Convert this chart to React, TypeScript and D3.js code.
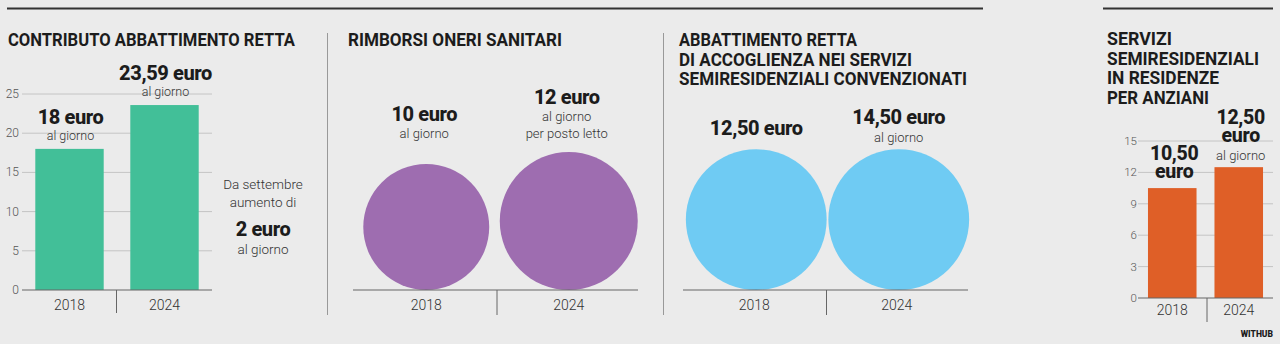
import React from "react";
import * as d3 from "d3";

const years = ["2018", "2024"];
const contributoValues = [18, 23.59];
const contributoLabels = ["18 euro", "23,59 euro"];
const contributoTicks = [0, 5, 10, 15, 20, 25];
const rimborsiValues = [10, 12];
const rimborsiLabels = ["10 euro", "12 euro"];
const rimborsiSub = [["al giorno"], ["al giorno", "per posto letto"]];
const accoglienzaValues = [12.5, 14.5];
const accoglienzaLabels = ["12,50 euro", "14,50 euro"];
const accoglienzaSub = [[], ["al giorno"]];
const serviziValues = [10.5, 12.5];
const serviziLabels = [["10,50", "euro"], ["12,50", "euro"]];
const serviziSub = [[], ["al giorno"]];
const serviziTicks = [0, 3, 6, 9, 12, 15];

const BG = "#ebebeb";
const DARK = "#1c1c1c";
const GRID = "#c4c4c4";
const AXIS = "#666";
const FONT = "Roboto, 'Noto Sans', sans-serif";

function Title({ x, y, lines, widths }: { x: number; y: number; lines: string[]; widths: number[] }) {
  return (
    <g>
      {lines.map((l, i) => (
        <text key={i} x={x} y={y + i * 19.7} fontFamily={FONT} fontWeight={700} fontSize={18}
          fill={DARK} textLength={widths[i]} lengthAdjust="spacingAndGlyphs">{l}</text>
      ))}
    </g>
  );
}

export default function App() {
  // Panel 1
  const x1 = d3.scaleBand<string>().domain(years).range([22, 212]).paddingInner(0.28).paddingOuter(0.14);
  const y1 = d3.scaleLinear().domain([0, 25]).range([290, 94]);
  // Panel 2 and 3 circles
  const r = d3.scaleSqrt().domain([0, 12.5]).range([0, 70.4]).clamp(true);
  const x2 = d3.scaleBand<string>().domain(years).range([353, 638]);
  const x3 = d3.scaleBand<string>().domain(years).range([683, 968]);
  const base = 290;
  // Panel 4
  const x4 = d3.scaleBand<string>().domain(years).range([1138, 1273]).paddingInner(0.27).paddingOuter(0.15);
  const y4 = d3.scaleLinear().domain([0, 15]).range([298, 141]);

  const green = "#42bf98";
  const purple = "#9e6db0";
  const blue = "#6fcbf3";
  const orange = "#df5f27";

  const xLabel = (x: number, y: number, t: string, k: string) => (
    <text key={k} x={x} y={y} textAnchor="middle" fontFamily={FONT} fontWeight={300} fontSize={14} fill="#333">{t}</text>
  );

  return (
    <svg width={1280} height={344} style={{ position: "absolute", left: 0, top: 0 }}>
      <rect width={1280} height={344} fill={BG} />
      {/* top rules */}
      <line x1={7} x2={983} y1={8.5} y2={8.5} stroke="#333" strokeWidth={2} />
      <line x1={1103} x2={1273} y1={8.5} y2={8.5} stroke="#333" strokeWidth={2} />
      {/* panel dividers */}
      <line x1={327.5} x2={327.5} y1={33} y2={315} stroke="#999" strokeWidth={1} />
      <line x1={663.5} x2={663.5} y1={33} y2={315} stroke="#999" strokeWidth={1} />

      {/* Panel 1 */}
      <Title x={8} y={46} lines={["CONTRIBUTO ABBATTIMENTO RETTA"]} widths={[287]} />
      {contributoTicks.map((t) => (
        <g key={t}>
          {t > 0 && <line x1={22} x2={212} y1={y1(t)} y2={y1(t)} stroke={GRID} strokeWidth={1} />}
          <text x={19} y={y1(t) + 4} textAnchor="end" fontFamily={FONT} fontWeight={300} fontSize={12} fill="#555">{t}</text>
        </g>
      ))}
      {years.map((yr, i) => {
        const v = contributoValues[i];
        const bx = x1(yr)!;
        const cx = bx + x1.bandwidth() / 2;
        const top = y1(v);
        return (
          <g key={yr}>
            <rect x={bx} y={top} width={x1.bandwidth()} height={290 - top} fill={green} />
            <text x={cx + 1} y={top - 25} textAnchor="middle" fontFamily={FONT} fontWeight={800} fontSize={20} letterSpacing={-0.4} fill={DARK}>{contributoLabels[i]}</text>
            <text x={cx + 1} y={top - 9} textAnchor="middle" fontFamily={FONT} fontWeight={300} fontSize={12.5} fill="#333">al giorno</text>
            {xLabel(cx, 310, yr, "xl" + yr)}
          </g>
        );
      })}
      <line x1={22} x2={212} y1={290} y2={290} stroke={AXIS} strokeWidth={1.2} />
      <line x1={116.5} x2={116.5} y1={290} y2={313} stroke={AXIS} strokeWidth={1} />
      <g fontFamily={FONT} textAnchor="middle" fill="#333">
        <text x={263} y={189} fontWeight={300} fontSize={13.5}>Da settembre</text>
        <text x={263} y={207} fontWeight={300} fontSize={13.5}>aumento di</text>
        <text x={263} y={236} fontWeight={800} fontSize={20} letterSpacing={-0.4} fill={DARK}>2 euro</text>
        <text x={263} y={254} fontWeight={300} fontSize={13.5}>al giorno</text>
      </g>

      {/* Panel 2 */}
      <Title x={348} y={46} lines={["RIMBORSI ONERI SANITARI"]} widths={[214]} />
      {years.map((yr, i) => {
        const v = rimborsiValues[i];
        const rad = r(v);
        const cx = x2(yr)! + x2.bandwidth() / 2 + 2;
        const top = base - 2 * rad;
        const sub = rimborsiSub[i];
        const lastY = i === 0 ? top - 27 : top - 15;
        const boldY = lastY - sub.length * 17 + 1;
        return (
          <g key={yr}>
            <circle cx={cx} cy={base - rad} r={rad} fill={purple} />
            <text x={cx - 2} y={boldY} textAnchor="middle" fontFamily={FONT} fontWeight={800} fontSize={20} letterSpacing={-0.4} fill={DARK}>{rimborsiLabels[i]}</text>
            {sub.map((s, j) => (
              <text key={j} x={cx - 2} y={boldY + 17 + j * 17} textAnchor="middle" fontFamily={FONT} fontWeight={300} fontSize={13} fill="#333">{s}</text>
            ))}
            {xLabel(x2(yr)! + x2.bandwidth() / 2 + 2, 310, yr, "xl2" + yr)}
          </g>
        );
      })}
      <line x1={353} x2={638} y1={290} y2={290} stroke={AXIS} strokeWidth={1.2} />
      <line x1={497} x2={497} y1={290} y2={315} stroke={AXIS} strokeWidth={1} />

      {/* Panel 3 */}
      <Title x={679} y={46}
        lines={["ABBATTIMENTO RETTA", "DI ACCOGLIENZA NEI SERVIZI", "SEMIRESIDENZIALI CONVENZIONATI"]}
        widths={[178, 233, 288]} />
      {years.map((yr, i) => {
        const v = accoglienzaValues[i];
        const rad = r(v);
        const cx = x3(yr)! + x3.bandwidth() / 2 + 2;
        const sub = accoglienzaSub[i];
        const boldY = i === 0 ? 135 : 124;
        return (
          <g key={yr}>
            <circle cx={cx} cy={base - rad} r={rad} fill={blue} />
            <text x={cx} y={boldY} textAnchor="middle" fontFamily={FONT} fontWeight={800} fontSize={20} letterSpacing={-0.4} fill={DARK}>{accoglienzaLabels[i]}</text>
            {sub.map((s, j) => (
              <text key={j} x={cx} y={boldY + 18 + j * 17} textAnchor="middle" fontFamily={FONT} fontWeight={300} fontSize={13} fill="#333">{s}</text>
            ))}
            {xLabel(x3(yr)! + x3.bandwidth() / 2, 310, yr, "xl3" + yr)}
          </g>
        );
      })}
      <line x1={683} x2={968} y1={290} y2={290} stroke={AXIS} strokeWidth={1.2} />
      <line x1={826.5} x2={826.5} y1={290} y2={315} stroke={AXIS} strokeWidth={1} />

      {/* Panel 4 */}
      <Title x={1107} y={45}
        lines={["SERVIZI", "SEMIRESIDENZIALI", "IN RESIDENZE", "PER ANZIANI"]}
        widths={[65, 152, 112, 102]} />
      {serviziTicks.map((t) => (
        <g key={t}>
          {t > 0 && <line x1={1138} x2={1273} y1={y4(t)} y2={y4(t)} stroke={GRID} strokeWidth={1} />}
          <text x={1137} y={y4(t) + 4} textAnchor="end" fontFamily={FONT} fontWeight={300} fontSize={11.5} fill="#555">{t}</text>
        </g>
      ))}
      {years.map((yr, i) => {
        const v = serviziValues[i];
        const bx = x4(yr)!;
        const cx = bx + x4.bandwidth() / 2;
        const top = y4(v);
        const sub = serviziSub[i];
        const lines = serviziLabels[i];
        const lastBold = top - 10 - sub.length * 15.5;
        return (
          <g key={yr}>
            <rect x={bx} y={top} width={x4.bandwidth()} height={298 - top} fill={orange} />
            {lines.map((l, j) => (
              <text key={j} x={cx + 2} y={lastBold - (lines.length - 1 - j) * 18} textAnchor="middle" fontFamily={FONT} fontWeight={800} fontSize={19.5} letterSpacing={-0.3} fill={DARK}>{l}</text>
            ))}
            {sub.map((s, j) => (
              <text key={j} x={cx + 2} y={top - 7} textAnchor="middle" fontFamily={FONT} fontWeight={300} fontSize={13} fill="#333">{s}</text>
            ))}
            {xLabel(cx, 315, yr, "xl4" + yr)}
          </g>
        );
      })}
      <line x1={1138} x2={1273} y1={298} y2={298} stroke={AXIS} strokeWidth={1.2} />
      <line x1={1207} x2={1207} y1={298} y2={322} stroke={AXIS} strokeWidth={1} />
      <text x={1273} y={337} textAnchor="end" fontFamily={FONT} fontWeight={900} fontSize={8.5} fill={DARK}>WITHUB</text>
    </svg>
  );
}
